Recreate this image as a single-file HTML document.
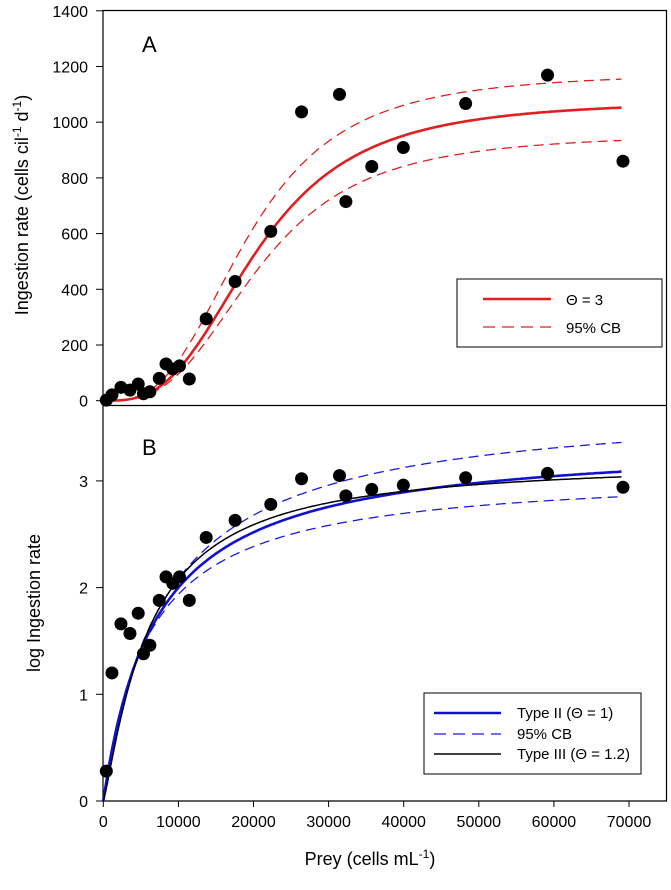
<!DOCTYPE html>
<html><head><meta charset="utf-8"><style>
body{margin:0;background:#fff}
svg text{font-family:"Liberation Sans",Arial,sans-serif;fill:#000}
</style></head><body>
<svg id="c" width="671" height="885" xmlns="http://www.w3.org/2000/svg"></svg>
<script>
const preyA=[400,1150,2350,3550,4650,5350,6200,7450,8350,9250,10150,11450,13700,17550,22300,26400,31450,32300,35750,39950,48250,59150,69200];
const ingestA=[2,21,48,38,60,25,32,80,132,114,125,78,294,428,608,1037,1100,715,841,909,1067,1169,860];
const logIngestB=[0.28,1.2,1.66,1.57,1.76,1.38,1.46,1.88,2.1,2.04,2.1,1.88,2.47,2.63,2.78,3.02,3.05,2.86,2.92,2.96,3.03,3.07,2.94];
const xTicks=[0,10000,20000,30000,40000,50000,60000,70000];
const yTicksA=[0,200,400,600,800,1000,1200,1400];
const yTicksB=[0,1,2,3];
// fitted model parameters [Imax, K, theta]
const fitA=[1080,20500,3], fitAUp=[1180,19300,3], fitALo=[960,20800,3];
const fitB2=[3.4,7000,1], fitB2Up=[3.75,8000,1], fitB2Lo=[3.1,6000,1], fitB3=[3.2,6000,1.2];

const NS="http://www.w3.org/2000/svg", svg=document.getElementById('c');
function el(t,a,p){const e=document.createElementNS(NS,t);for(const k in a)e.setAttribute(k,a[k]);(p||svg).appendChild(e);return e;}
const X0=103,X1=666.5;
const sx=v=>103.3+v*7.51/1000;
const syA=v=>400.7-v*(55.7/200);
const syB=v=>801-v*106.7;
function model(p,x){const r=Math.pow(x/p[1],p[2]);return p[0]*r/(1+r);}
function curve(p,sy,col,w,dash,name){
  let d='';for(let x=0;x<=69000;x+=250){d+=(x?'L':'M')+sx(x).toFixed(1)+','+sy(model(p,Math.max(x,1))).toFixed(1);}
  const e=el('path',{d:d,fill:'none',stroke:col,'stroke-width':w});
  if(dash)e.setAttribute('stroke-dasharray',dash);
  
  
}
const f=el('path',{d:`M${X0},10.5H${X1}V801H${X0}Z M${X0},405.5H${X1}`,fill:'none',stroke:'#000','stroke-width':1.2});

xTicks.forEach(v=>{
  el('line',{x1:sx(v),x2:sx(v),y1:801,y2:807,stroke:'#000'});
  const t=el('text',{x:sx(v),y:827,'text-anchor':'middle','font-size':16});t.textContent=v;
  
});
yTicksA.forEach(v=>{
  el('line',{x1:96,x2:X0,y1:syA(v),y2:syA(v),stroke:'#000'});
  const t=el('text',{x:88,y:syA(v)+6,'text-anchor':'end','font-size':16});t.textContent=v;
  
});
yTicksB.forEach(v=>{
  el('line',{x1:96,x2:X0,y1:syB(v),y2:syB(v),stroke:'#000'});
  const t=el('text',{x:88,y:syB(v)+6,'text-anchor':'end','font-size':16});t.textContent=v;
  
});
curve(fitAUp,syA,'#e02020',1.3,'10,6','upper-cb-a');
curve(fitALo,syA,'#e02020',1.3,'10,6','lower-cb-a');
curve(fitA,syA,'#e02020',2.6,null,'theta3-fit');
curve(fitB2Up,syB,'#1a1ae0',1.3,'10,6','upper-cb-b');
curve(fitB2Lo,syB,'#1a1ae0',1.3,'10,6','lower-cb-b');
curve(fitB2,syB,'#1010d0',2.6,null,'type2-fit');
curve(fitB3,syB,'#000',1.5,null,'type3-fit');
preyA.forEach((x,i)=>{
  const c=el('circle',{cx:sx(x),cy:syA(ingestA[i]),r:6.5,fill:'#000'});
  
  const d=el('circle',{cx:sx(x),cy:syB(logIngestB[i]),r:6.5,fill:'#000'});
  
});
</script>
<svg width="671" height="885" style="position:absolute;left:0;top:0" xmlns="http://www.w3.org/2000/svg">
<text x="142" y="52" font-size="22">A</text>
<text x="142" y="455" font-size="22">B</text>
<g>
<rect x="457" y="279" width="205" height="68" fill="#fff" stroke="#000"/>
<line x1="483" x2="551" y1="299" y2="299" stroke="#e02020" stroke-width="2.6"/>
<line x1="483" x2="551" y1="327" y2="327" stroke="#e02020" stroke-width="1.3" stroke-dasharray="12,7"/>
<text x="566" y="305" font-size="15">Θ = 3</text>
<text x="566" y="333" font-size="15">95% CB</text>
</g>
<g>
<rect x="424" y="693" width="217" height="81" fill="#fff" stroke="#000"/>
<line x1="434" x2="501" y1="713" y2="713" stroke="#1010d0" stroke-width="2.6"/>
<line x1="434" x2="501" y1="734" y2="734" stroke="#1a1ae0" stroke-width="1.3" stroke-dasharray="12,7"/>
<line x1="434" x2="501" y1="754" y2="754" stroke="#000" stroke-width="1.5"/>
<text x="517" y="718" font-size="15">Type II (Θ = 1)</text>
<text x="517" y="739" font-size="15">95% CB</text>
<text x="517" y="759" font-size="15">Type III (Θ = 1.2)</text>
</g>
<text transform="translate(28,205) rotate(-90)" text-anchor="middle" font-size="18">Ingestion rate (cells cil<tspan font-size="12" dy="-7">-1</tspan><tspan dy="7"> d</tspan><tspan font-size="12" dy="-7">-1</tspan><tspan dy="7">)</tspan></text>
<text transform="translate(40,603) rotate(-90)" text-anchor="middle" font-size="18">log Ingestion rate</text>
<text x="370" y="865" text-anchor="middle" font-size="18">Prey (cells mL<tspan font-size="12" dy="-7">-1</tspan><tspan dy="7">)</tspan></text>
</svg>
</body></html>
